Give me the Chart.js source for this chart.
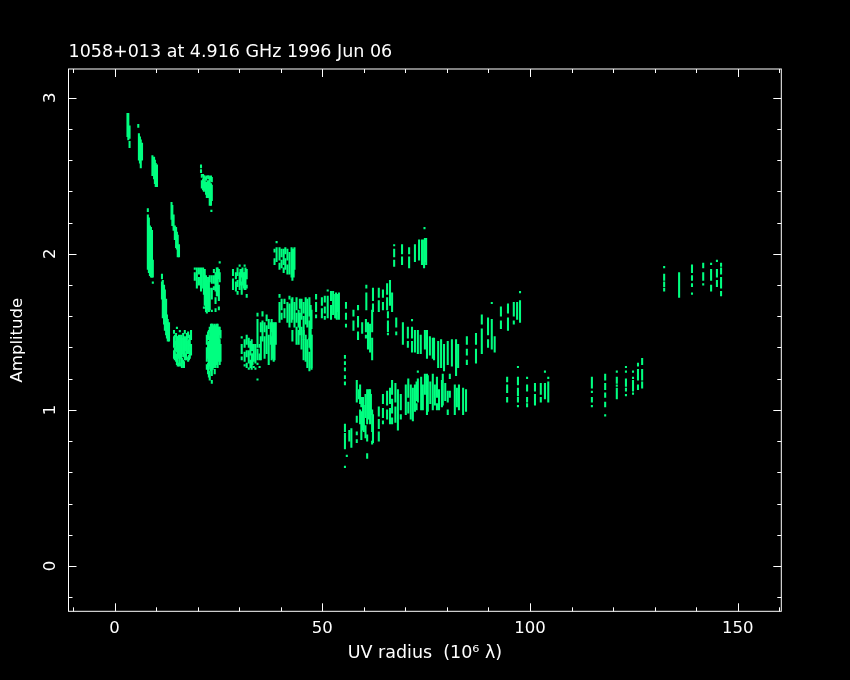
<!DOCTYPE html>
<html>
<head>
<meta charset="utf-8">
<title>1058+013 visibility amplitude</title>
<script src="https://cdn.jsdelivr.net/npm/chart.js@4"></script>
<style>
  html, body { margin: 0; padding: 0; background: #000; }
  canvas { display: block; }
</style>
</head>
<body>
<canvas id="chart" width="850" height="680"></canvas>
<script>
const titleText = "1058+013 at 4.916 GHz 1996 Jun 06";
const xAxisLabel = "UV radius  (10\u2076 \u03bb)";
const yAxisLabel = "Amplitude";
const xMajorTicks = [0, 50, 100, 150];
const yMajorTicks = [0, 1, 2, 3];

// one track per row: [uv radius, top, bottom, top, bottom, ...]
const shortA = [[3.1,2.90,2.75],[3.3,2.90,2.73],[3.6,2.82,2.74,2.72,2.68]];
const shortB = [[5.7,2.83,2.81],[5.85,2.77,2.60],[6.1,2.75,2.58],[6.3,2.73,2.55],[6.6,2.71,2.60]];
const shortC = [[9.1,2.63,2.50],[9.5,2.62,2.48],[9.7,2.60,2.45],[9.9,2.58,2.43],[10.2,2.57,2.43]];
const shortD = [[20.8,2.57,2.55,2.54,2.52],[21,2.51,2.49,2.47,2.42],[21.3,2.51,2.50,2.48,2.41],[21.5,2.50,2.47,2.45,2.40],[21.7,2.50,2.49,2.47,2.41],[22,2.49,2.47,2.46,2.38],[22.2,2.50,2.48,2.46,2.36],[22.5,2.50,2.49,2.47,2.36],[22.7,2.50,2.48,2.46,2.36],[22.9,2.49,2.31],[23.2,2.50,2.47,2.45,2.31],[23.4,2.49,2.46,2.44,2.34],[23.3,2.28,2.27]];
const shortE = [[8,2.29,2.27,2.25,1.90],[8.25,2.23,1.88],[8.5,2.18,1.86],[8.75,2.17,1.85],[9,2.15,1.85],[9.2,1.96,1.85,1.82,1.81]];
const shortF = [[13.7,2.33,2.22],[13.9,2.31,2.18],[14.2,2.25,2.15],[14.5,2.18,2.09],[14.8,2.17,2.04],[15,2.14,2.03],[15.2,2.12,1.98],[15.5,2.06,1.98]];
const shortG = [[11.4,1.87,1.84,1.82,1.71],[11.6,1.83,1.59],[11.9,1.80,1.55],[12.1,1.77,1.51],[12.4,1.71,1.48],[12.6,1.61,1.46],[12.8,1.58,1.44],[13.1,1.56,1.44]];
const lowH = [[14.3,1.51,1.49,1.47,1.40,1.38,1.33],[14.5,1.48,1.42,1.40,1.32],[14.8,1.49,1.47,1.44,1.38,1.36,1.31],[15,1.53,1.52,1.47,1.37,1.35,1.29],[15.2,1.47,1.30,1.29,1.28],[15.5,1.48,1.33,1.30,1.28],[15.7,1.51,1.50,1.46,1.30],[16,1.48,1.33,1.30,1.28],[16.2,1.46,1.36,1.33,1.27],[16.5,1.49,1.34,1.32,1.30],[16.7,1.47,1.35,1.31,1.27],[16.9,1.51,1.49,1.45,1.32],[17.2,1.47,1.38,1.36,1.32],[17.4,1.49,1.36,1.34,1.33],[17.7,1.50,1.46,1.44,1.36,1.33,1.31],[17.9,1.45,1.37,1.35,1.32],[18.1,1.48,1.41,1.38,1.33],[18.4,1.51,1.45,1.42,1.35]];
const lowI = [[22.2,1.48,1.42,1.40,1.31,1.29,1.26],[22.5,1.50,1.45,1.43,1.33,1.30,1.23],[22.7,1.51,1.47,1.44,1.26,1.23,1.21],[22.9,1.53,1.50,1.47,1.28,1.25,1.19],[23.2,1.55,1.25],[23.4,1.55,1.22,1.19,1.17],[23.6,1.55,1.26],[23.9,1.54,1.27],[24.1,1.55,1.28,1.26,1.23],[24.3,1.54,1.27],[24.6,1.55,1.29],[24.8,1.55,1.27],[25.1,1.53,1.31],[25.3,1.53,1.48,1.45,1.29],[25.5,1.51,1.46,1.42,1.31]];
const midJ = [[19.3,1.91,1.90,1.88,1.83],[19.8,1.91,1.78],[20.3,1.91,1.87,1.85,1.80],[20.8,1.91,1.76],[21.3,1.91,1.78],[21.5,1.88,1.74,1.66,1.65],[21.7,1.90,1.67],[22,1.86,1.63],[22.2,1.83,1.62],[22.5,1.85,1.64],[22.7,1.83,1.63],[22.9,1.86,1.82,1.78,1.64],[23.4,1.86,1.81,1.78,1.71,1.64,1.63],[23.9,1.90,1.88,1.86,1.81,1.79,1.77],[24.3,1.88,1.76,1.72,1.68,1.65,1.63],[24.6,1.91,1.73],[24.8,1.91,1.73],[25.1,1.90,1.84,1.80,1.70,1.66,1.64],[25.3,1.95,1.94,1.88,1.82]];
const midK = [[28.5,1.90,1.86,1.84,1.77],[29.2,1.88,1.84,1.82,1.76],[29.6,1.91,1.86,1.83,1.79,1.76,1.74],[30.1,1.93,1.92,1.88,1.77],[30.3,1.90,1.80],[30.6,1.90,1.85,1.82,1.74],[30.8,1.91,1.80],[31.1,1.88,1.78],[31.3,1.93,1.92,1.88,1.77],[31.5,1.91,1.77],[31.8,1.90,1.84,1.80,1.78,1.74,1.72]];
const lowL = [[30.6,1.47,1.46,1.42,1.36,1.34,1.32],[31.3,1.45,1.40,1.37,1.31,1.29,1.28],[31.8,1.48,1.42,1.38,1.34,1.30,1.27],[32.3,1.46,1.40,1.38,1.30,1.27,1.26],[32.7,1.44,1.35,1.32,1.27],[33,1.45,1.38,1.36,1.26],[33.2,1.42,1.38,1.36,1.29],[33.5,1.42,1.31,1.28,1.27],[33.9,1.42,1.30,1.27,1.26],[34.4,1.39,1.32,1.30,1.29,1.20,1.19],[34.9,1.42,1.40,1.36,1.32,1.28,1.27]];
const lowM = [[34.4,1.62,1.60,1.58,1.40],[35.2,1.56,1.50,1.47,1.32],[35.6,1.63,1.60,1.57,1.44],[36.1,1.56,1.50,1.47,1.33],[36.6,1.61,1.57,1.54,1.36],[37.1,1.58,1.52,1.48,1.29],[37.6,1.56,1.42],[37.8,1.58,1.50,1.47,1.32],[38.1,1.56,1.33],[38.3,1.55,1.31],[38.5,1.56,1.32],[38.8,1.56,1.42]];
const upperN = [[38.5,2.03,2.01,1.97,1.93],[39,2.08,2.07,2.04,1.95],[39.7,2.04,1.96,1.94,1.90],[40.2,2.03,1.98,1.96,1.91],[40.7,2.03,1.93,1.91,1.88],[41.1,2.04,2.00,1.97,1.90],[41.6,2.03,1.96,1.93,1.87],[42.1,2.01,1.87],[42.6,2.04,1.85],[42.8,2.03,1.83],[43.1,2.03,1.85],[43.3,2.04,1.90]];
const midO = [[39.7,1.74,1.72,1.69,1.56],[40.2,1.71,1.64,1.62,1.58],[40.9,1.71,1.68,1.65,1.59],[41.6,1.69,1.56],[42.1,1.73,1.71,1.68,1.53],[42.6,1.71,1.56],[42.8,1.72,1.58],[43.3,1.69,1.53],[43.8,1.72,1.64,1.62,1.56],[44.3,1.64,1.53],[44.6,1.71,1.65,1.62,1.48],[45,1.71,1.58],[45.5,1.69,1.62,1.60,1.45],[46,1.72,1.55],[46.4,1.71,1.53],[46.9,1.72,1.60,1.57,1.45],[47.2,1.67,1.39],[47.4,1.64,1.52,1.48,1.27]];
const midOLower = [[42.8,1.51,1.44],[43.8,1.53,1.42],[44.3,1.51,1.42],[45,1.53,1.39],[45.5,1.51,1.48,1.45,1.32],[46,1.48,1.31],[46.4,1.45,1.27],[46.9,1.46,1.40,1.37,1.25],[47.4,1.48,1.26]];
const midP = [[48.5,1.74,1.71,1.69,1.63,1.61,1.59],[49.9,1.72,1.67,1.65,1.59],[50.6,1.73,1.69,1.66,1.62,1.60,1.58],[51.3,1.77,1.76,1.73,1.59],[52.1,1.76,1.70,1.67,1.58],[52.6,1.76,1.61],[53.1,1.74,1.59],[53.3,1.75,1.59],[53.5,1.74,1.58],[53.8,1.74,1.63],[54,1.75,1.58]];
const midQ = [[55.7,1.69,1.65,1.62,1.58,1.55,1.53],[57.5,1.64,1.60,1.57,1.51],[58.6,1.67,1.64,1.60,1.53,1.50,1.45],[59.6,1.56,1.49],[60.5,1.58,1.50,1.48,1.46],[61,1.56,1.39],[61.5,1.55,1.37],[62,1.64,1.50,1.46,1.32]];
const midR = [[60.6,1.80,1.78,1.75,1.64],[62.2,1.78,1.70,1.68,1.63],[63.6,1.78,1.72,1.70,1.63],[64.6,1.77,1.72,1.69,1.64],[65.6,1.81,1.74,1.72,1.64],[66.3,1.83,1.67],[66.8,1.75,1.63]];
const bandS = [[65.8,1.63,1.59,1.57,1.50,1.49,1.48],[67.8,1.59,1.53,1.50,1.48],[69.4,1.56,1.42],[70.6,1.53,1.46,1.44,1.40],[71.6,1.58,1.57,1.53,1.46,1.44,1.37],[72.3,1.51,1.37],[73,1.51,1.36],[73.7,1.48,1.36],[74.7,1.51,1.39],[75.2,1.51,1.33],[75.9,1.47,1.35],[76.6,1.46,1.33],[76.9,1.46,1.32],[77.9,1.44,1.27],[78.6,1.45,1.27],[79.3,1.42,1.25],[80.2,1.44,1.29],[81.2,1.45,1.28],[82.2,1.45,1.22],[82.7,1.42,1.27]];
const topT = [[67.3,2.06,2.05,2.03,1.98,1.96,1.92],[69.2,2.06,2.00,1.98,1.93],[70.9,2.04,2.00,1.98,1.91],[72.3,2.06,1.95],[73.3,2.09,1.96],[74,2.09,1.93],[74.5,2.09,1.91],[74.7,2.10,1.95],[75,2.10,1.93],[74.6,2.17,2.16]];
const risingU = [[84.8,1.47,1.42,1.39,1.35,1.32,1.29],[87,1.49,1.42,1.39,1.30],[88.4,1.61,1.55,1.52,1.36],[89.9,1.59,1.48,1.45,1.40],[90.8,1.69,1.68,1.58,1.39],[91.5,1.47,1.37],[93,1.66,1.60,1.57,1.52],[94.7,1.68,1.62,1.59,1.51],[96.1,1.69,1.60,1.57,1.55],[96.9,1.69,1.58],[97.6,1.76,1.75,1.70,1.56]];
const lowV1 = [[55.45,1.35,1.33,1.31,1.29,1.27,1.25,1.22,1.20,1.18,1.16],[55.45,0.91,0.86,0.85,0.75],[55.9,0.71,0.70],[55.45,0.64,0.63],[56.5,0.87,0.80],[57,0.88,0.76],[58.3,1.19,1.05,0.96,0.92,0.86,0.84,0.81,0.79],[58.8,1.13,1.07],[59.1,1.16,1.04,1.00,0.91],[59.4,1.08,1.02,0.99,0.81],[59.8,1.08,0.87],[60,1.03,0.86],[60.4,1.10,0.95,0.90,0.82],[60.8,1.13,0.91,0.84,0.80,0.72,0.69],[61,1.12,0.97],[61.2,1.13,0.94],[61.5,1.13,0.91],[61.7,1.10,0.97],[62,1.00,0.86,0.80,0.78],[62.2,0.97,0.79]];
const lowV2 = [[63.6,1.02,0.96,0.94,0.88,0.86,0.80],[64.6,1.10,1.04,1.01,0.95,0.93,0.91],[65.6,1.12,1.03,1.00,0.94],[66.3,1.14,1.04,1.01,0.91],[66.8,1.19,1.10,1.07,0.98,0.95,0.91],[67.6,1.17,1.05,1.02,0.92],[68.2,1.13,0.87],[68.9,1.10,1.00,0.97,0.94],[70.1,1.16,0.97],[70.7,1.20,1.08,1.05,0.98],[71.3,1.16,0.94],[71.8,1.14,0.93],[72.3,1.16,0.99],[72.7,1.18,1.06,1.04,1.00],[73,1.25,1.24,1.20,1.05],[73.8,1.21,1.00],[74.2,1.16,1.00],[74.7,1.23,1.10],[75.2,1.23,0.97],[75.4,1.22,0.99],[76,1.18,1.04],[76.6,1.23,1.00],[77.1,1.16,1.03],[77.6,1.21,1.08,1.04,1.00],[78.1,1.13,1.00],[78.8,1.19,1.02],[79,1.23,1.03],[79.6,1.17,1.06],[80.2,1.12,1.05,1.00,0.97],[80.7,1.23,1.20,1.12,1.08],[81.9,1.16,0.97],[82.4,1.14,1.02],[82.9,1.16,1.00],[83.9,1.14,0.97],[84.6,1.13,0.99]];
const farW = [[94.5,1.21,1.18,1.16,1.11,1.08,1.05],[97.1,1.28,1.27,1.21,1.16,1.14,1.09,1.08,1.05,1.03,1.02],[99.3,1.21,1.20,1.16,1.12,1.08,1.05,1.04,1.02],[101.2,1.17,1.12,1.10,1.03],[102.6,1.17,1.10,1.08,1.05],[103.6,1.25,1.24,1.17,1.07],[104.4,1.21,1.20,1.18,1.05]];
const farX = [[114.9,1.21,1.14,1.12,1.11,1.08,1.05,1.03,1.02],[118.1,1.23,1.19,1.17,1.13,1.11,1.08,1.05,1.02,0.97,0.96],[120.9,1.25,1.24,1.21,1.17,1.16,1.15,1.14,1.07],[123.1,1.28,1.27,1.25,1.24,1.20,1.15,1.14,1.12,1.10,1.09],[124.8,1.25,1.24,1.21,1.20,1.19,1.12,1.11,1.10],[126,1.30,1.28,1.26,1.19,1.16,1.13],[127,1.33,1.29,1.26,1.19,1.18,1.14]];
const farY = [[132.3,1.92,1.91,1.87,1.83,1.82,1.79,1.78,1.76],[135.9,1.88,1.72],[139,1.93,1.88,1.86,1.83,1.81,1.79,1.75,1.74],[141.7,1.94,1.91,1.88,1.83,1.81,1.80],[143.6,1.94,1.93,1.90,1.83,1.80,1.76],[145,1.96,1.95,1.90,1.85,1.83,1.79],[146,1.94,1.92,1.91,1.87,1.85,1.78,1.76,1.73]];

const tracks = [shortA, shortB, shortC, shortD, shortE, shortF, shortG, lowH, lowI, midJ, midK, lowL, lowM,
  upperN, midO, midOLower, midP, midQ, midR, bandS, topT, risingU, lowV1, lowV2, farW, farX, farY].flat();

const pieces = [];
tracks.forEach(t => {
  for (let i = 1; i < t.length; i += 2) {
    pieces.push({ x: t[0], y: [t[i + 1], t[i]] });
  }
});

// inward ticks on all four sides plus the rotated y labels
const framePlugin = {
  id: "frame",
  afterDraw(c) {
    const ctx = c.ctx, a = c.chartArea, xs = c.scales.x, ys = c.scales.y;
    ctx.save();
    ctx.strokeStyle = "#fff";
    ctx.lineWidth = 1;
    ctx.strokeRect(a.left, a.top, a.right - a.left, a.bottom - a.top);
    ctx.beginPath();
    xs.ticks.forEach(t => {
      const px = Math.round(xs.getPixelForValue(t.value)) + 0.5;
      const len = xMajorTicks.includes(t.value) ? 8 : 4;
      ctx.moveTo(px, a.top); ctx.lineTo(px, a.top + len);
      ctx.moveTo(px, a.bottom); ctx.lineTo(px, a.bottom - len);
    });
    ys.ticks.forEach(t => {
      const py = Math.round(ys.getPixelForValue(t.value)) + 0.5;
      const len = yMajorTicks.includes(Math.round(t.value * 100) / 100) ? 8 : 4;
      ctx.moveTo(a.left, py); ctx.lineTo(a.left + len, py);
      ctx.moveTo(a.right, py); ctx.lineTo(a.right - len, py);
    });
    ctx.stroke();
    ctx.fillStyle = "#fff";
    ctx.font = "16.5px 'DejaVu Sans'";
    ctx.textAlign = "center";
    ctx.textBaseline = "middle";
    yMajorTicks.forEach(v => {
      ctx.save();
      ctx.translate(51, ys.getPixelForValue(v));
      ctx.rotate(-Math.PI / 2);
      ctx.fillText(String(v), 0, 0);
      ctx.restore();
    });
    ctx.restore();
  }
};

new Chart(document.getElementById("chart"), {
  type: "bar",
  data: {
    datasets: [{
      data: pieces,
      backgroundColor: "#00ff80",
      barThickness: 1.4,
      grouped: false
    }]
  },
  options: {
    responsive: false,
    animation: false,
    layout: { padding: { right: 68.7 } },
    plugins: {
      legend: { display: false },
      tooltip: { enabled: false },
      title: {
        display: true,
        text: titleText,
        align: "start",
        fullSize: false,
        color: "#fff",
        font: { family: "DejaVu Sans", size: 17.5, weight: "normal" },
        padding: { top: 42, bottom: 6 }
      }
    },
    scales: {
      x: {
        type: "linear",
        offset: false,
        min: -11.1,
        max: 160.5,
        afterFit: s => { s.height = 68.7; },
        grid: { display: false },
        border: { display: false },
        ticks: {
          stepSize: 10,
          includeBounds: false,
          autoSkip: false,
          maxRotation: 0,
          padding: 0,
          color: "#fff",
          font: { family: "DejaVu Sans", size: 16.5 },
          callback: v => xMajorTicks.includes(v) ? String(v) : ""
        },
        title: {
          display: true,
          text: xAxisLabel,
          color: "#fff",
          font: { family: "DejaVu Sans", size: 17.5 },
          padding: { top: 0, bottom: 16 }
        }
      },
      y: {
        min: -0.29,
        max: 3.184,
        afterFit: s => { s.width = 68.5; },
        grid: { display: false },
        border: { display: false },
        ticks: { display: false, stepSize: 0.2, includeBounds: false },
        title: {
          display: true,
          text: yAxisLabel,
          color: "#fff",
          font: { family: "DejaVu Sans", size: 16.5 },
          padding: { top: 8, bottom: 0 }
        }
      }
    }
  },
  plugins: [framePlugin]
});
</script>
</body>
</html>
